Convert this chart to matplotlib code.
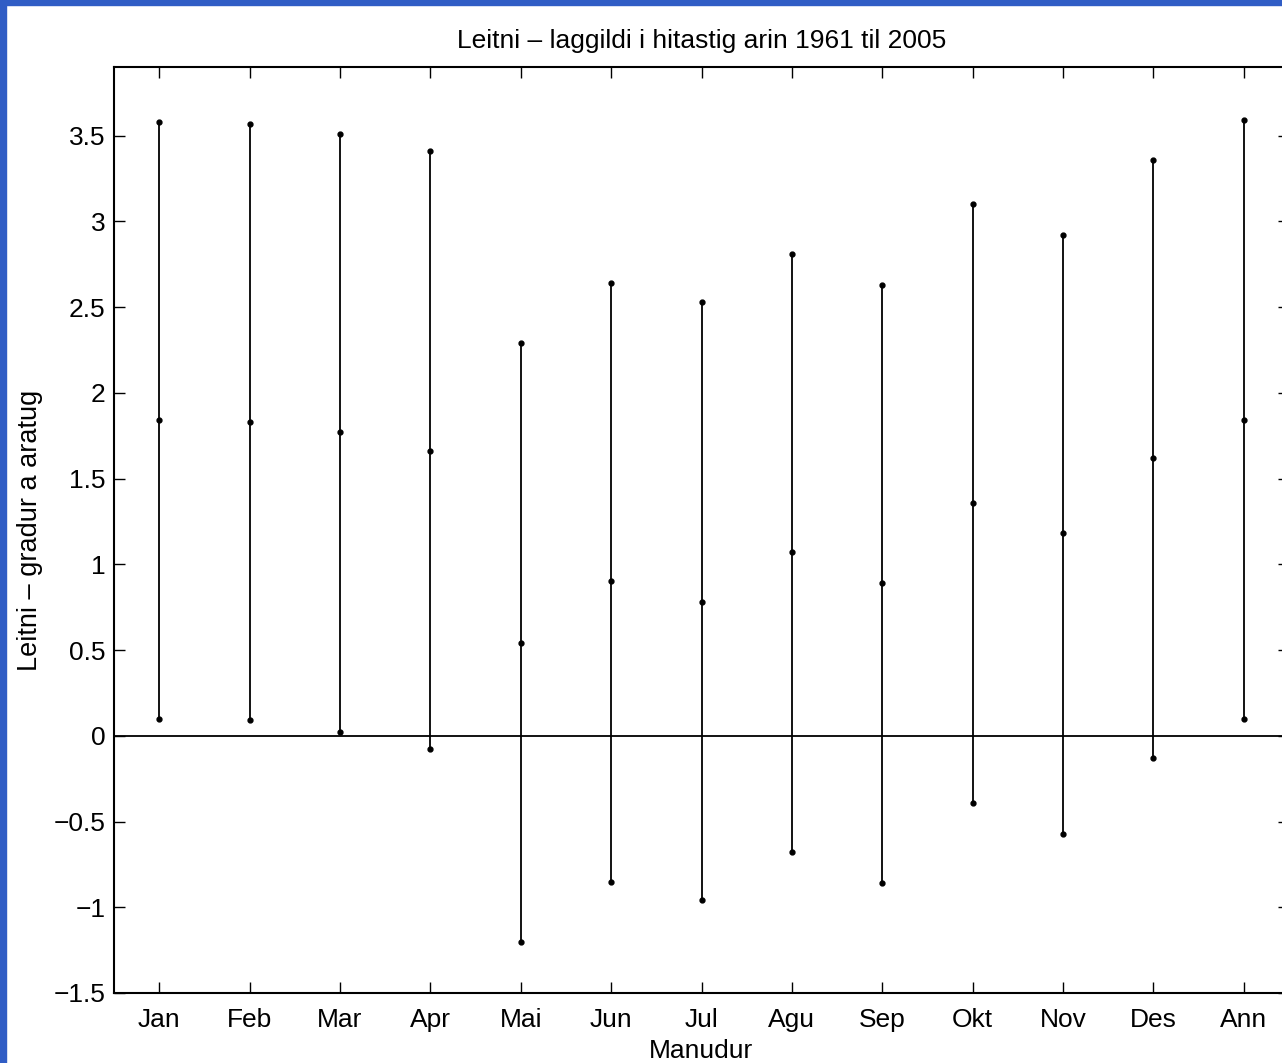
import matplotlib.pyplot as plt
from matplotlib.patches import Rectangle

plt.rcParams['font.family'] = ['Liberation Sans', 'DejaVu Sans']

# data
months = ['Jan', 'Feb', 'Mar', 'Apr', 'Mai', 'Jun', 'Jul', 'Agu', 'Sep', 'Okt', 'Nov', 'Des', 'Ann']
lower = [0.10, 0.09, 0.02, -0.08, -1.20, -0.85, -0.96, -0.68, -0.86, -0.39, -0.57, -0.13, 0.10]
mid = [1.84, 1.83, 1.77, 1.66, 0.54, 0.90, 0.78, 1.07, 0.89, 1.36, 1.18, 1.62, 1.84]
upper = [3.58, 3.57, 3.51, 3.41, 2.29, 2.64, 2.53, 2.81, 2.63, 3.10, 2.92, 3.36, 3.59]

x = list(range(1, len(months) + 1))

fig = plt.figure(figsize=(12.82, 10.63), dpi=100)
ax = fig.add_axes([114 / 1282, 70 / 1063, 1175 / 1282, 926 / 1063])

# zero line
ax.axhline(0, color='black', linewidth=1.3, zorder=1)

# interval lines and dots
ax.vlines(x, lower, upper, color='black', linewidth=1.3)
ax.plot(x, lower, 'k.', markersize=7)
ax.plot(x, mid, 'k.', markersize=7)
ax.plot(x, upper, 'k.', markersize=7)

ax.set_xlim(0.5, 13.5)
ax.set_ylim(-1.5, 3.9)
ax.set_xticks(x)
ax.set_xticklabels(months)
ax.set_yticks([-1.5, -1, -0.5, 0, 0.5, 1, 1.5, 2, 2.5, 3, 3.5])
ax.set_yticklabels(['\u22121.5', '\u22121', '\u22120.5', '0', '0.5', '1', '1.5', '2', '2.5', '3', '3.5'])
ax.tick_params(direction='in', top=True, right=True, length=8, width=1, labelsize=19)
ax.tick_params(axis='x', pad=11)
ax.tick_params(axis='y', pad=6)
for s in ax.spines.values():
    s.set_linewidth(1.5)

ax.set_title('Leitni \u2013 laggildi i hitastig arin 1961 til 2005', fontsize=19, pad=14)
ax.set_xlabel('Manudur', fontsize=19, labelpad=5)
ax.set_ylabel('Leitni \u2013 gradur a aratug', fontsize=19.5, labelpad=8)

# blue window border on left and top
fig.patches.append(Rectangle((0, 0), 6 / 1282, 1, transform=fig.transFigure, color='#305dc5', zorder=10))
fig.patches.append(Rectangle((0, 1 - 5 / 1063), 1, 5 / 1063, transform=fig.transFigure, color='#305dc5', zorder=10))

fig.savefig('out.png', dpi=100)
